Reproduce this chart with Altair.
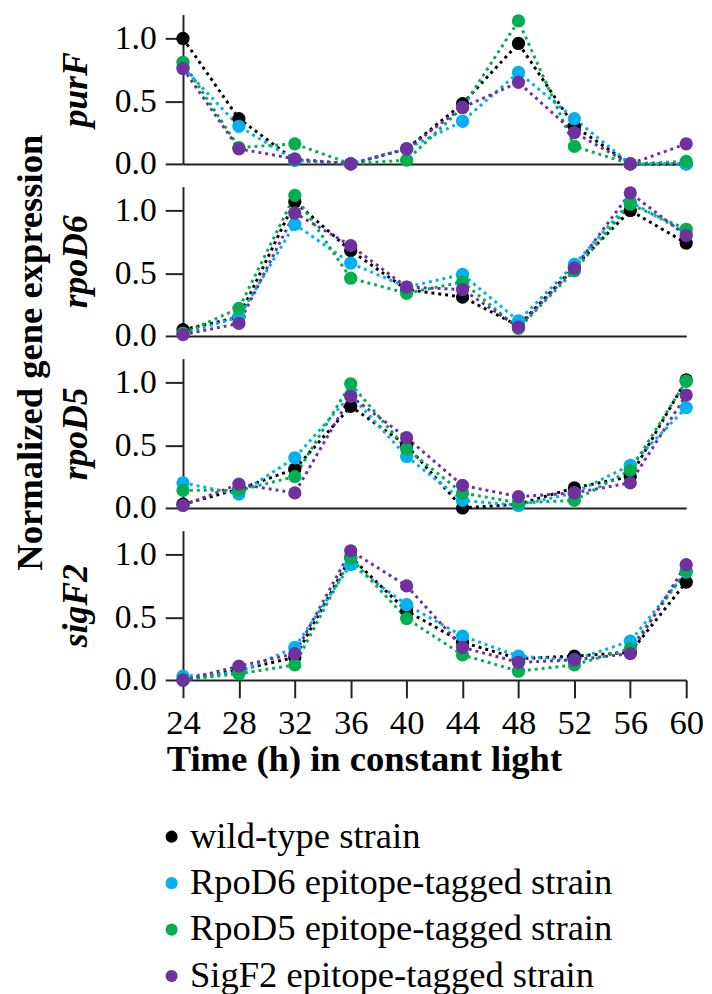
import altair as alt
import pandas as pd

times = [24, 28, 32, 36, 40, 44, 48, 52, 56, 60]
strains = [
    "wild-type strain",
    "RpoD6 epitope-tagged strain",
    "RpoD5 epitope-tagged strain",
    "SigF2 epitope-tagged strain",
]
colors = ["#000000", "#00b0f0", "#00b050", "#7030a0"]
genes = ["purF", "rpoD6", "rpoD5", "sigF2"]
y_title = ["Normalized gene expression"]

# purF
purF_wt = [1.00, 0.36, 0.03, 0.00, 0.12, 0.48, 0.96, 0.30, 0.00, 0.00]
purF_d6 = [0.77, 0.30, 0.03, 0.00, 0.12, 0.34, 0.73, 0.36, 0.00, 0.00]
purF_d5 = [0.81, 0.13, 0.16, 0.00, 0.03, 0.45, 1.14, 0.14, 0.00, 0.02]
purF_f2 = [0.76, 0.12, 0.04, 0.00, 0.12, 0.45, 0.65, 0.25, 0.00, 0.16]
# rpoD6
rpoD6_wt = [0.05, 0.15, 1.07, 0.68, 0.37, 0.31, 0.08, 0.55, 1.00, 0.74]
rpoD6_d6 = [0.02, 0.15, 0.89, 0.58, 0.39, 0.49, 0.12, 0.57, 1.07, 0.82]
rpoD6_d5 = [0.02, 0.22, 1.12, 0.46, 0.34, 0.43, 0.06, 0.52, 1.05, 0.85]
rpoD6_f2 = [0.01, 0.10, 0.98, 0.72, 0.39, 0.37, 0.07, 0.54, 1.14, 0.80]
# rpoD5
rpoD5_wt = [0.03, 0.15, 0.31, 0.81, 0.50, 0.00, 0.03, 0.16, 0.25, 1.02]
rpoD5_d6 = [0.20, 0.11, 0.40, 0.90, 0.41, 0.06, 0.02, 0.12, 0.34, 0.80]
rpoD5_d5 = [0.14, 0.14, 0.25, 0.99, 0.47, 0.12, 0.04, 0.06, 0.30, 1.01]
rpoD5_f2 = [0.02, 0.19, 0.12, 0.89, 0.56, 0.18, 0.09, 0.12, 0.20, 0.90]
# sigF2
sigF2_wt = [0.00, 0.08, 0.18, 0.98, 0.55, 0.30, 0.17, 0.19, 0.22, 0.78]
sigF2_d6 = [0.03, 0.06, 0.26, 0.92, 0.60, 0.35, 0.19, 0.16, 0.31, 0.86]
sigF2_d5 = [0.00, 0.05, 0.12, 0.97, 0.49, 0.20, 0.07, 0.12, 0.25, 0.87]
sigF2_f2 = [0.00, 0.11, 0.21, 1.03, 0.75, 0.26, 0.14, 0.16, 0.21, 0.92]

gene_series = {
    "purF": [purF_wt, purF_d6, purF_d5, purF_f2],
    "rpoD6": [rpoD6_wt, rpoD6_d6, rpoD6_d5, rpoD6_f2],
    "rpoD5": [rpoD5_wt, rpoD5_d6, rpoD5_d5, rpoD5_f2],
    "sigF2": [sigF2_wt, sigF2_d6, sigF2_d5, sigF2_f2],
}

FONT = "Liberation Serif"

legend = alt.Legend(
    title=None,
    orient="none",
    legendX=-30,
    legendY=813,
    labelFontSize=37,
    labelFont=FONT,
    labelColor="black",
    symbolType="circle",
    symbolSize=150,
    symbolStrokeWidth=0,
    rowPadding=9,
    labelOffset=0,
    padding=0,
    labelLimit=600,
)


def panel(gene, bottom):
    rows = []
    for s, vals in zip(strains, gene_series[gene]):
        for t, v in zip(times, vals):
            rows.append({"strain": s, "time": t, "value": v})
    df = pd.DataFrame(rows)
    if bottom:
        xaxis = alt.Axis(
            values=times,
            title="Time (h) in constant light",
            labelFontSize=35,
            labelFlush=False,
            labelOverlap=False,
            tickSize=18,
            labelPadding=8,
            titleFontSize=37,
            titleFontWeight="bold",
            titlePadding=2,
            titleX=-17,
            titleAnchor="start",
            titleAlign="left",
            grid=False,
        )
    else:
        xaxis = alt.Axis(values=times, ticks=False, labels=False, title=None, grid=False)
    x = alt.X("time:Q", scale=alt.Scale(domain=[24, 60], nice=False, zero=False), axis=xaxis)
    y = alt.Y(
        "value:Q",
        scale=alt.Scale(domain=[0, 1.19], nice=False),
        axis=alt.Axis(
            values=[0, 0.5, 1.0],
            format=".1f",
            title=gene,
            titleFontStyle="italic",
            titleFontWeight="bold",
            titleFontSize=36,
            titlePadding=20,
            labelFontSize=34,
            labelFlush=False,
            labelOverlap=False,
            tickSize=18,
            labelPadding=9,
            grid=False,
        ),
    )
    color = alt.Color("strain:N", scale=alt.Scale(domain=strains, range=colors), legend=legend)
    base = alt.Chart(df).encode(x=x, y=y, color=color)
    lines = base.mark_line(strokeDash=[3, 4], strokeWidth=3)
    pts = base.mark_circle(size=180, opacity=1)
    layers = [lines, pts]
    if gene == "rpoD6":
        ttl = (
            alt.Chart(pd.DataFrame({"t": y_title}))
            .mark_text(
                font=FONT,
                fontSize=37,
                fontWeight="bold",
                angle=270,
                align="center",
                baseline="middle",
                color="black",
            )
            .encode(text="t:N", x=alt.value(-154), y=alt.value(168))
        )
        layers.append(ttl)
    return alt.layer(*layers).properties(width=509, height=151)


panels = [panel(g, g == "sigF2") for g in genes]

chart = (
    alt.vconcat(*panels, spacing=23, bounds="flush")
    .resolve_scale(color="shared")
    .resolve_legend(color="shared")
    .properties(padding={"left": 4, "top": 0, "right": 0, "bottom": 0})
    .configure_axis(
        domainColor="#222222",
        domainWidth=2,
        tickColor="#222222",
        tickWidth=2,
        labelFont=FONT,
        titleFont=FONT,
        labelColor="black",
        titleColor="black",
    )
    .configure_view(stroke=None)
)

chart.save("out.html", embed_options={"renderer": "svg", "actions": False})
